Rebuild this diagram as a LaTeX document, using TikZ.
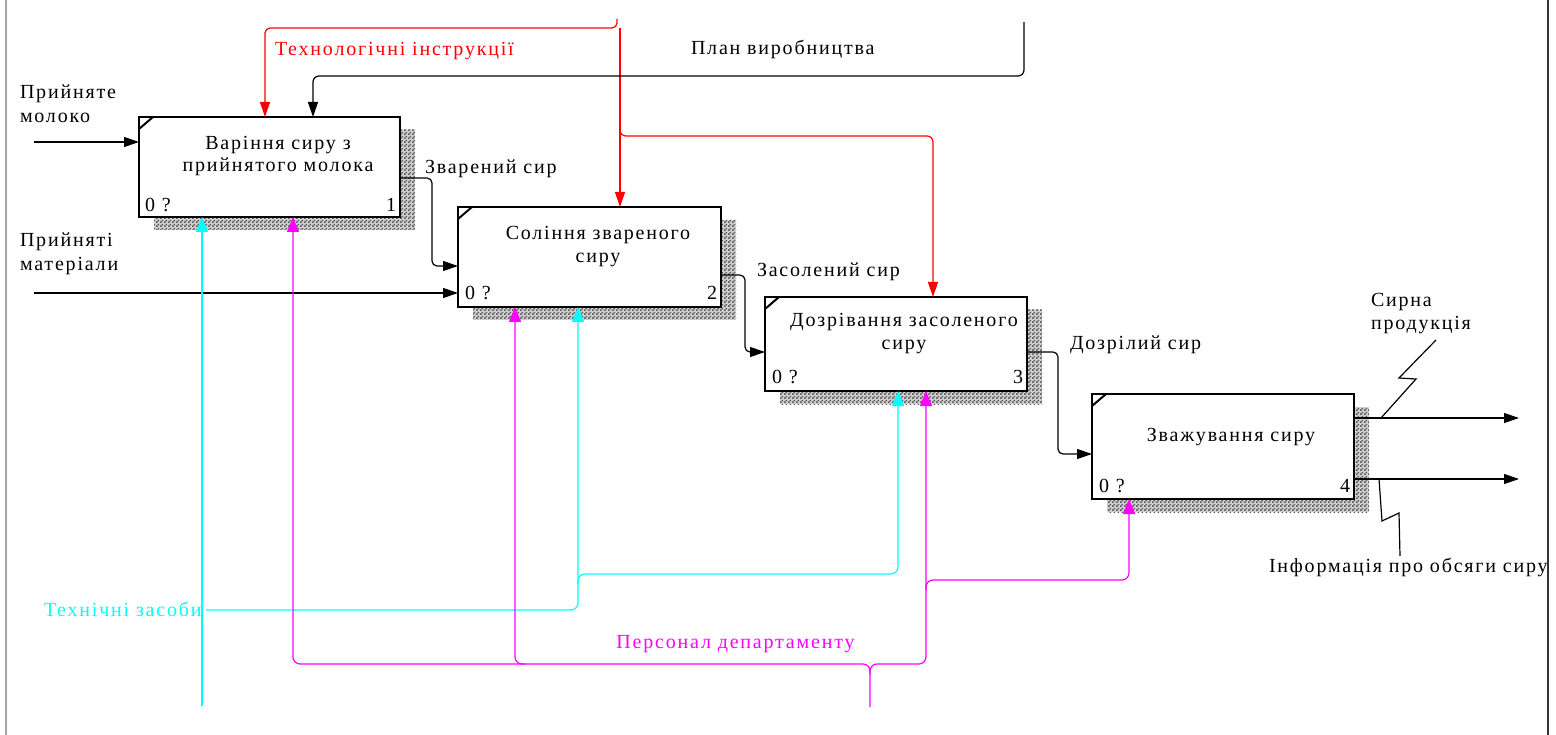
\documentclass[tikz,border=0pt]{standalone}
\usepackage{fontspec}
\setmainfont{Liberation Serif}[LetterSpace=9]
\usetikzlibrary{arrows.meta,calc,patterns,backgrounds}
\definecolor{cy}{RGB}{0,255,255}
\definecolor{mg}{RGB}{255,0,255}
\definecolor{rd}{RGB}{255,0,0}
\pgfdeclarepatternformonly{idefchk}{\pgfqpoint{0pt}{0pt}}{\pgfqpoint{4pt}{4pt}}{\pgfqpoint{4pt}{4pt}}{%
  \pgfpathrectangle{\pgfqpoint{0pt}{0pt}}{\pgfqpoint{2pt}{2pt}}%
  \pgfpathrectangle{\pgfqpoint{2pt}{2pt}}{\pgfqpoint{2pt}{2pt}}%
  \pgfusepath{fill}}
\newcommand\twolines[3]{\begin{tabular}[t]{@{}#1@{}}#2\\#3\end{tabular}}
\begin{document}
\begin{tikzpicture}[x=1pt,y=-1pt,
  font=\fontsize{20}{23}\selectfont,
  box/.style={draw,line width=2.6pt,fill=white,inner sep=0pt,outer sep=0pt},
  txt/.style={inner sep=0pt,outer sep=0pt},
  con/.style={line width=1.2pt},
  arr/.style={-{Triangle[length=15pt,width=10pt]}},
  marr/.style={-{Triangle[length=15pt,width=12pt]}},
  shadowbox/.style={preaction={fill=black!18},pattern=idefchk,pattern color=black!65},
  tick/.style={line width=2pt}
]
\useasboundingbox (0,0) rectangle (1556,735);
% frame
\draw[gray!70,line width=1.2pt] (6,0) -- (6,735);
\draw[black!80,line width=2.4pt] (1548,0) -- (1548,735);

% boxes
\node[box,minimum width=261pt,minimum height=100pt] (b1) at (269.5,167) {};
\node[box,minimum width=263pt,minimum height=100pt] (b2) at (589.5,257) {};
\node[box,minimum width=262pt,minimum height=94pt] (b3) at (896,344) {};
\node[box,minimum width=262pt,minimum height=105pt] (b4) at (1223,446.5) {};

\begin{scope}[on background layer]
\foreach \b in {b1,b2,b3,b4}{
  \path[shadowbox] ($(\b.north west)+(15,13)$) rectangle ($(\b.south east)+(15,13)$);
}
\end{scope}

\foreach \b in {b1,b2,b3,b4}{
  \draw[tick] ($(\b.north west)+(0,12)$) -- ($(\b.north west)+(14,0)$);
}

% box texts
\node[txt,anchor=base,font=\fontsize{20}{22}\selectfont] (t1) at (278,150) {\twolines{c}{Варіння сиру з}{прийнятого молока}};
\node[txt,anchor=base,font=\fontsize{20}{23}\selectfont] (t2) at (598,240) {\twolines{c}{Соління звареного}{сиру}};
\node[txt,anchor=base,font=\fontsize{20}{23}\selectfont] (t3) at (904,327) {\twolines{c}{Дозрівання засоленого}{сиру}};
\node[txt,anchor=base] (t4) at (1231,441) {Зважування сиру};

% box numbers
\node[txt,anchor=base west] (n1a) at (145,212) {0 ?};
\node[txt,anchor=base east] (n1b) at (396,212) {1};
\node[txt,anchor=base west] (n2a) at (465,300) {0 ?};
\node[txt,anchor=base east] (n2b) at (717,300) {2};
\node[txt,anchor=base west] (n3a) at (772,384) {0 ?};
\node[txt,anchor=base east] (n3b) at (1023,384) {3};
\node[txt,anchor=base west] (n4a) at (1099,492) {0 ?};
\node[txt,anchor=base east] (n4b) at (1350,492) {4};

% labels
\node[txt,anchor=base west,font=\fontsize{20}{24}\selectfont] (lmilk) at (20,99) {\twolines{l}{Прийняте}{молоко}};
\node[txt,anchor=base west,font=\fontsize{20}{24}\selectfont] (lmat) at (20,247) {\twolines{l}{Прийняті}{матеріали}};
\node[txt,anchor=base west,text=rd] (ltech) at (275,56) {Технологічні інструкції};
\node[txt,anchor=base west] (lplan) at (691,55) {План виробництва};
\node[txt,anchor=base west] (lzv) at (425,174) {Зварений сир};
\node[txt,anchor=base west] (lzas) at (757,277) {Засолений сир};
\node[txt,anchor=base west] (ldoz) at (1070,350) {Дозрілий сир};
\node[txt,anchor=base west,font=\fontsize{20}{23}\selectfont] (lsyr) at (1371,307) {\twolines{l}{Сирна}{продукція}};
\node[txt,anchor=base west] (linfo) at (1269,572) {Інформація про обсяги сиру};
\node[txt,anchor=base west,text=cy] (ltz) at (44,616) {Технічні засоби};
\node[txt,anchor=base,text=mg] (lpers) at (735.5,648) {Персонал департаменту};

% coordinates (free ends)
\coordinate (inA) at (34,142);
\coordinate (inB) at (34,293);
\coordinate (o1) at (1519,418);
\coordinate (o2) at (1519,479);
\coordinate (redtop) at (617,19);
\coordinate (redv) at (620,28);
\coordinate (redbr) at (620,126);
\coordinate (plantop) at (1024,22);
\coordinate (cybot) at (202,706);
\coordinate (tzs) at (206,610);
\coordinate (cybr) at (578,584);
\coordinate (mgbot) at (870,707);
\coordinate (mgbr1) at (870,674);
\coordinate (mgbr2) at (525,664);
\coordinate (mgbr3) at (926,590);

% inputs
\draw[con,arr] (inA) -- ($(b1.north west)+(0,25)$);
\draw[con,arr] (inB) -- ($(b2.north west)+(0,86)$);

% outputs between boxes
\draw[con,arr,rounded corners=5pt] ($(b1.north east)+(0,61)$) -| (432,266) -- ($(b2.north west)+(0,59)$);
\draw[con,arr,rounded corners=5pt] ($(b2.north east)+(0,68)$) -| (745,352) -- ($(b3.north west)+(0,55)$);
\draw[con,arr,rounded corners=5pt] ($(b3.north east)+(0,55)$) -| (1058,454) -- ($(b4.north west)+(0,60)$);

% final outputs
\draw[con,arr] ($(b4.north east)+(0,24)$) -- (o1);
\draw[con,arr] ($(b4.north east)+(0,85)$) -- (o2);
\draw[con] (1381,418) -- (1416,379) -- (1399,378) -- (1436,340);
\draw[con] (1379,479) -- (1382,521) -- (1399,513) -- (1400,556);

% controls
\draw[con,rd,arr,rounded corners=5pt] (redtop) |- (265,28) -- ($(b1.north west)+(126,0)$);
\draw[con,rd,arr] (redv) -- ($(b2.north west)+(162,0)$);
\draw[con,rd,arr,rounded corners=6pt] (redbr) |- (933,136) -- ($(b3.north west)+(168,0)$);
\draw[con,arr,rounded corners=6pt] (plantop) |- (313,76) -- ($(b1.north west)+(174,0)$);

% mechanisms
\draw[con,cy,marr] (cybot) -- ($(b1.south west)+(63,0)$);
\draw[con,cy,marr,rounded corners=7pt] (tzs) -| ($(b2.south west)+(120,0)$);
\draw[con,cy,marr,rounded corners=7pt] (cybr) |- (898,574) -- ($(b3.south west)+(133,0)$);
\draw[con,mg,marr,rounded corners=7pt] (mgbot) |- (293,664) -- ($(b1.south west)+(154,0)$);
\draw[con,mg,marr,rounded corners=7pt] (mgbr1) |- (926,664) -- ($(b3.south west)+(161,0)$);
\draw[con,mg,marr,rounded corners=7pt] (mgbr2) -| ($(b2.south west)+(57,0)$);
\draw[con,mg,marr,rounded corners=7pt] (mgbr3) |- (1129,580) -- ($(b4.south west)+(37,0)$);
\end{tikzpicture}
\end{document}
